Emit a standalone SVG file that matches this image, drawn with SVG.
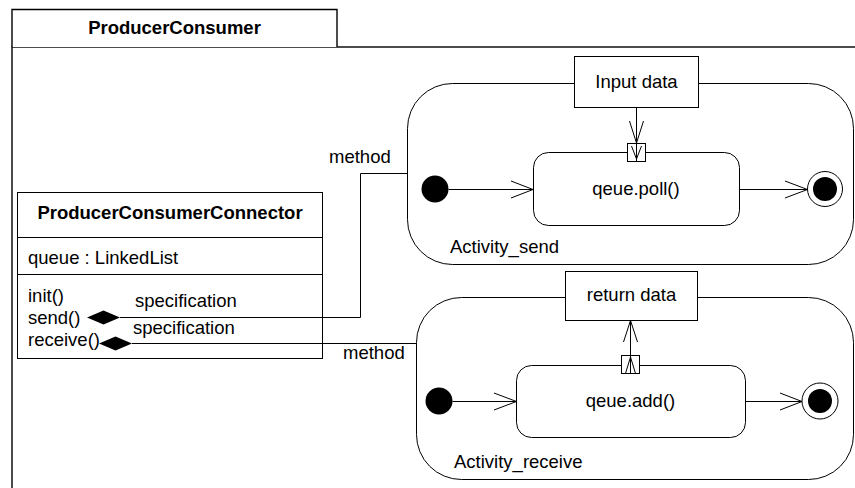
<svg xmlns="http://www.w3.org/2000/svg" width="855" height="488" viewBox="0 0 855 488">
<defs>
<style>
text{font-family:"Liberation Sans",Arial,sans-serif;font-size:18.5px;fill:#000}
.b{font-weight:bold}
.m{text-anchor:middle}
.s{fill:#fff;stroke:#000;stroke-width:1}
.l{fill:none;stroke:#000;stroke-width:1}
.dot{fill:#000}
</style>
</defs>
<rect width="855" height="488" fill="#fff"/>
<g id="frame">
<rect x="12" y="47" width="900" height="500" fill="#fff" stroke="#000" stroke-width="1.4"/>
<path d="M12,47 V9.5 H337 V47" fill="#fff" stroke="#000" stroke-width="1.4"/>
<text class="b m" x="174.5" y="34">ProducerConsumer</text>
</g>
<g id="connectorClass">
<rect class="s" x="17.5" y="192.5" width="305" height="166"/>
<line class="l" x1="17.5" y1="237.5" x2="322.5" y2="237.5"/>
<line class="l" x1="17.5" y1="274.5" x2="322.5" y2="274.5"/>
<text class="b m" x="170" y="219">ProducerConsumerConnector</text>
<text x="28" y="264">queue : LinkedList</text>
<text x="28" y="302">init()</text>
<text x="28" y="324">send()</text>
<text x="28" y="346">receive()</text>
</g>
<g id="activitySend">
<rect class="s" x="407.5" y="83.5" width="446" height="181" rx="45" ry="45"/>
<text x="450" y="253">Activity_send</text>
</g>
<g id="inputData">
<rect class="s" x="574.5" y="56.5" width="124" height="51"/>
<text class="m" x="636.5" y="88">Input data</text>
</g>
<g id="poll">
<rect class="s" x="533.5" y="152.5" width="206" height="73" rx="15" ry="15"/>
<text class="m" x="636" y="195">qeue.poll()</text>
<rect class="s" x="627.5" y="143.5" width="18" height="18"/>
<path class="l" d="M631.5,146 L636.5,159 L641.5,146"/>
</g>
<g id="initSend"><circle class="dot" cx="435" cy="189" r="13.5"/></g>
<g id="finalSend">
<circle class="s" cx="825" cy="189" r="17.5"/>
<circle class="dot" cx="825" cy="189" r="12"/>
</g>
<g id="activityReceive">
<rect class="s" x="416.5" y="297.5" width="437" height="182" rx="45" ry="45"/>
<text x="454" y="468">Activity_receive</text>
</g>
<g id="returnData">
<rect class="s" x="565.5" y="271.5" width="132" height="49"/>
<text class="m" x="631.5" y="301">return data</text>
</g>
<g id="add">
<rect class="s" x="516.5" y="365.5" width="229" height="72" rx="15" ry="15"/>
<text class="m" x="630.5" y="407">qeue.add()</text>
<rect class="s" x="621.5" y="355.5" width="18" height="18"/>
</g>
<g id="initReceive"><circle class="dot" cx="439" cy="401" r="13.5"/></g>
<g id="finalReceive">
<circle class="s" cx="820" cy="401" r="18"/>
<circle class="dot" cx="820" cy="401" r="12"/>
</g>
<g id="connectors">
<path class="l" d="M636.5,107.5 V161.5"/>
<path class="l" d="M629.5,121 L636.5,143 L643.5,121"/>
<path class="l" d="M448.5,189.5 H533.5"/>
<path class="l" d="M511,181 L533,189.5 L511,198"/>
<path class="l" d="M739.5,189.5 H807.5"/>
<path class="l" d="M785,181 L807.5,189.5 L785,198"/>
<path class="l" d="M630.5,373.5 V320.5"/>
<path class="l" d="M623.5,342 L630.5,320.5 L637.5,342"/>
<path class="l" d="M625.5,373.5 L630.5,357 L635.5,373.5"/>
<path class="l" d="M452.5,401.5 H516.5"/>
<path class="l" d="M494,393 L516.5,401.5 L494,410"/>
<path class="l" d="M745.5,401.5 H802"/>
<path class="l" d="M780,393 L802,401.5 L780,410"/>
<path class="l" d="M120,317.5 H360.5 V173.5 H407.5"/>
<polygon class="dot" points="87,317.5 103.5,310.5 120,317.5 103.5,324.5"/>
<text x="135" y="307">specification</text>
<text x="329" y="163">method</text>
<path class="l" d="M132,343.5 H416.5"/>
<polygon class="dot" points="99,343.5 115.5,336.5 132,343.5 115.5,350.5"/>
<text x="133" y="334">specification</text>
<text x="343" y="359">method</text>
</g>
</svg>
